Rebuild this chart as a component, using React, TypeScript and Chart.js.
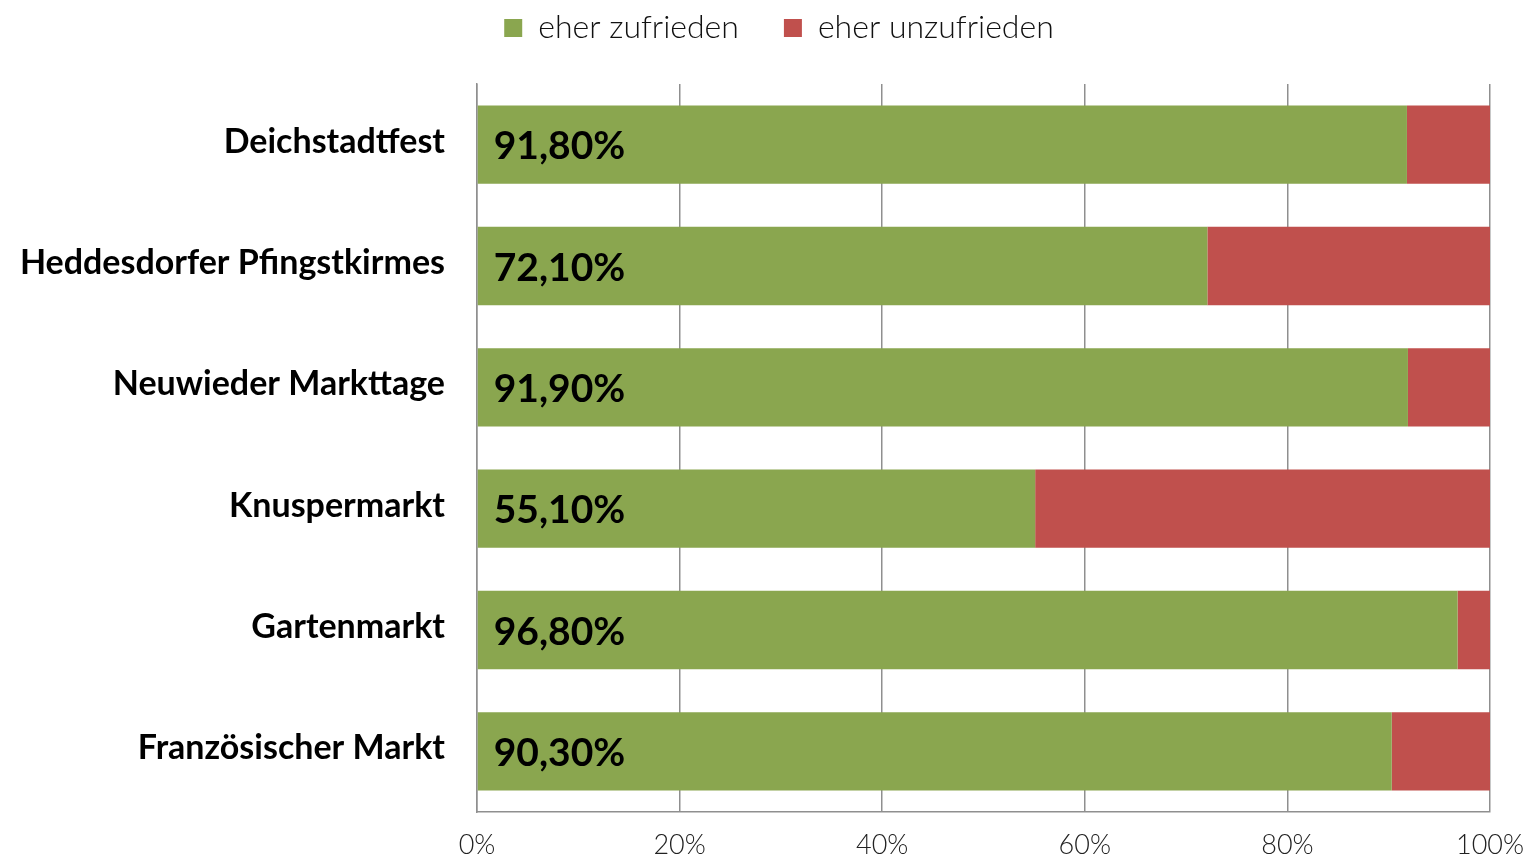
import React, { useEffect, useRef } from "react";
import { Chart, registerables } from "chart.js";

Chart.register(...registerables);

const categories = [
  "Deichstadtfest",
  "Heddesdorfer Pfingstkirmes",
  "Neuwieder Markttage",
  "Knuspermarkt",
  "Gartenmarkt",
  "Französischer Markt",
];
const zufrieden = [91.8, 72.1, 91.9, 55.1, 96.8, 90.3];
const unzufrieden = [8.2, 27.9, 8.1, 44.9, 3.2, 9.7];
const seriesNames = ["eher zufrieden", "eher unzufrieden"];
const valueLabels = ["91,80%", "72,10%", "91,90%", "55,10%", "96,80%", "90,30%"];

const GREEN = "#8aa64f";
const RED = "#c0504d";
const GRID = "#8f8f8f";
const FONT = "Lato, 'Noto Sans', sans-serif";
const LEGEND_PAD = 45;

export default function App() {
  const ref = useRef<HTMLCanvasElement | null>(null);
  useEffect(() => {
    if (!ref.current) return;
    const labelPlugin = {
      id: "valueLabels",
      afterDatasetsDraw(chart: any) {
        const ctx = chart.ctx;
        const meta = chart.getDatasetMeta(0);
        ctx.save();
        ctx.font = `bold 39px ${FONT}`;
        ctx.fillStyle = "#000";
        ctx.textBaseline = "middle";
        ctx.textAlign = "left";
        meta.data.forEach((bar: any, i: number) => {
          ctx.fillText(valueLabels[i], bar.base + 16, bar.y + 2);
        });
        ctx.restore();
      },
    };
    const legendFit = {
      id: "legendFit",
      beforeInit(chart: any) {
        const orig = chart.legend.fit;
        chart.legend.fit = function () {
          orig.call(this);
          this.height = 84;
        };
      },
      afterLayout(chart: any) {
        const lg = chart.legend;
        lg.top = 12 - LEGEND_PAD;
        lg.left += 34;
        lg.right += 34;
      },
    };
    const chart = new Chart(ref.current, {
      type: "bar",
      data: {
        labels: categories,
        datasets: [
          {
            label: seriesNames[0],
            data: zufrieden,
            backgroundColor: GREEN,
            categoryPercentage: 1,
            barPercentage: 0.645,
          },
          {
            label: seriesNames[1],
            data: unzufrieden,
            backgroundColor: RED,
            categoryPercentage: 1,
            barPercentage: 0.645,
          },
        ],
      },
      options: {
        indexAxis: "y",
        animation: false,
        responsive: false,
        maintainAspectRatio: false,
        layout: { padding: { left: 0, right: 36, top: 0, bottom: 0 } },
        scales: {
          x: {
            stacked: true,
            min: 0,
            max: 100,
            ticks: {
              stepSize: 20,
              callback: (v: any) => v + "%",
              font: { family: FONT, size: 27, weight: "300" as any },
              color: "#222",
              padding: 17,
            },
            grid: { color: GRID, lineWidth: 1.5, drawTicks: false },
            border: { color: GRID, width: 1.5 },
            afterFit(scale: any) {
              scale.height = 46;
              scale.paddingLeft = 0;
              scale.paddingRight = 0;
            },
          },
          y: {
            stacked: true,
            ticks: {
              font: { family: FONT, size: 34, weight: "bold" as any },
              color: "#000",
              padding: 32,
              labelOffset: -3,
            },
            grid: { display: false, drawTicks: false },
            border: { color: GRID, width: 1.5 },
            afterFit(scale: any) {
              scale.width = 477;
              scale.paddingTop = 0;
              scale.paddingBottom = 0;
            },
          },
        },
        plugins: {
          tooltip: { enabled: false },
          legend: {
            position: "top",
            labels: {
              boxWidth: 18,
              boxHeight: 18,
              padding: LEGEND_PAD,
              color: "#111",
              font: { family: FONT, size: 32, weight: "300" as any },
            },
          },
        },
      },
      plugins: [labelPlugin, legendFit],
    });
    return () => chart.destroy();
  }, []);
  return (
    <div style={{ position: "fixed", left: 0, top: 0, width: 1526, height: 858, background: "#fff" }}>
      <canvas ref={ref} width={1526} height={858} style={{ width: 1526, height: 858 }} />
    </div>
  );
}
